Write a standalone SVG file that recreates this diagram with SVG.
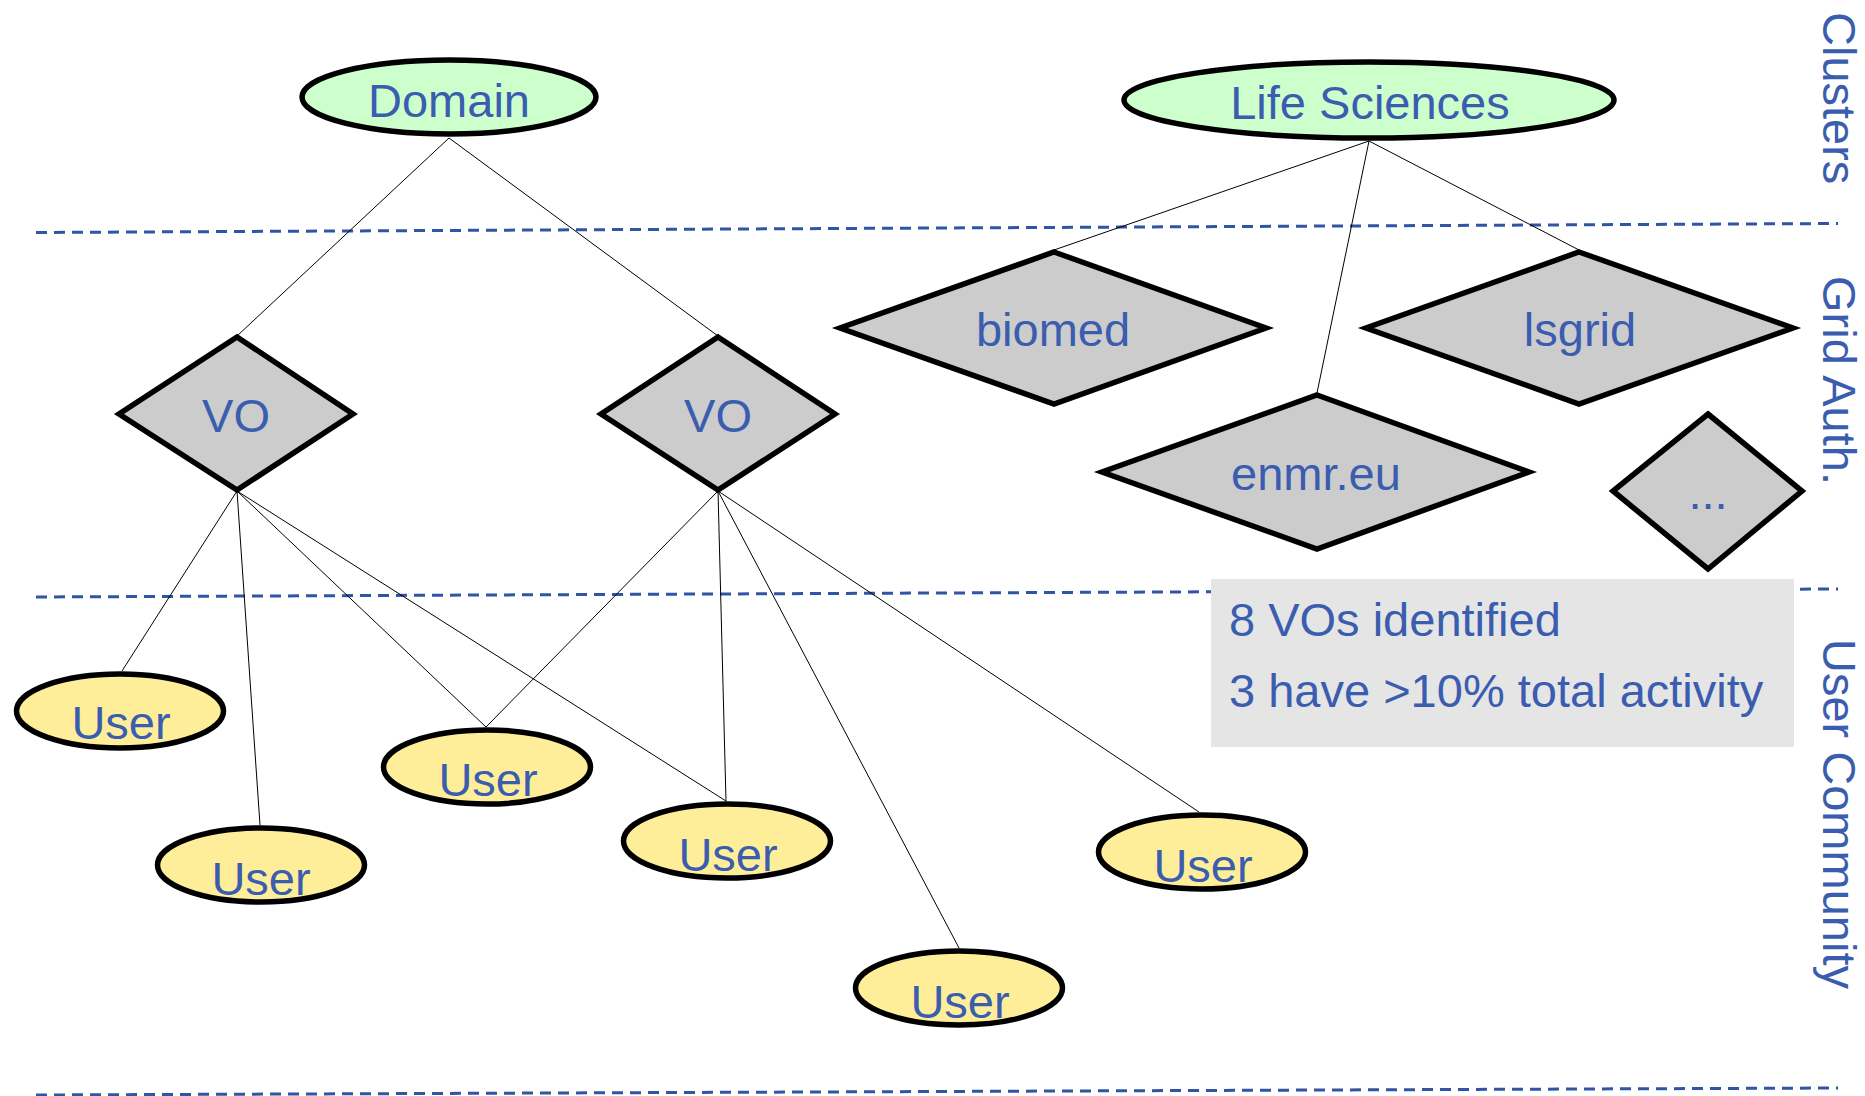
<svg xmlns="http://www.w3.org/2000/svg" width="1865" height="1096" viewBox="0 0 1865 1096">
<style>
.lbl{font-family:"Liberation Sans",Arial,sans-serif;font-size:47px;fill:#3A5DB0;text-anchor:middle}
.side{font-family:"Liberation Sans",Arial,sans-serif;font-size:47px;fill:#3A5DB0}
.note{font-family:"Liberation Sans",Arial,sans-serif;font-size:47px;fill:#3A5DB0}
.cl{fill:#CCFFCC;stroke:#000;stroke-width:5.5}
.us{fill:#FFEE99;stroke:#000;stroke-width:5.5}
.dm{fill:#CCCCCC;stroke:#000;stroke-width:5.5;stroke-linejoin:miter}
.sep{stroke:#2F55A4;stroke-width:3;stroke-dasharray:11 7;fill:none}
.cn{stroke:#000;stroke-width:1;fill:none}
</style>
<rect width="1865" height="1096" fill="#fff"/>
<g id="separators">
<line class="sep" x1="36" y1="232.5" x2="1838" y2="223.5"/>
<line class="sep" x1="36" y1="597" x2="1838" y2="589"/>
<line class="sep" x1="36" y1="1095" x2="1838" y2="1088"/>
</g>
<g id="connectors">
<line class="cn" x1="449" y1="138" x2="237" y2="336"/>
<line class="cn" x1="449" y1="138" x2="718" y2="336"/>
<line class="cn" x1="1369" y1="141" x2="1054" y2="250"/>
<line class="cn" x1="1369" y1="141" x2="1317" y2="393"/>
<line class="cn" x1="1369" y1="141" x2="1579" y2="250"/>
<line class="cn" x1="237" y1="491" x2="122" y2="671"/>
<line class="cn" x1="237" y1="491" x2="260" y2="825"/>
<line class="cn" x1="237" y1="491" x2="486" y2="727"/>
<line class="cn" x1="237" y1="491" x2="726" y2="801"/>
<line class="cn" x1="718" y1="491" x2="486" y2="727"/>
<line class="cn" x1="718" y1="491" x2="726" y2="801"/>
<line class="cn" x1="718" y1="491" x2="959" y2="948"/>
<line class="cn" x1="718" y1="491" x2="1199" y2="812"/>
</g>
<g id="note">
<rect x="1211" y="579" width="583" height="168" fill="#E5E5E5"/>
<text class="note" x="1229" y="636">8 VOs identified</text>
<text class="note" x="1229" y="707">3 have &gt;10% total activity</text>
</g>
<g id="domain"><ellipse class="cl" cx="449" cy="97" rx="147" ry="37"/><text class="lbl" x="449" y="117">Domain</text></g>
<g id="lifesciences"><ellipse class="cl" cx="1369" cy="100" rx="245" ry="38"/><text class="lbl" x="1370" y="119">Life Sciences</text></g>
<g id="vo1"><polygon class="dm" points="237,337 353,414 237,490 119,414"/><text class="lbl" x="236" y="432">VO</text></g>
<g id="vo2"><polygon class="dm" points="718,337 835,414 718,490 601,414"/><text class="lbl" x="718" y="432">VO</text></g>
<g id="biomed"><polygon class="dm" points="1054,252 1266,328 1054,404 840,328"/><text class="lbl" x="1053" y="346">biomed</text></g>
<g id="lsgrid"><polygon class="dm" points="1579,252 1793,328 1579,404 1366,328"/><text class="lbl" x="1580" y="346">lsgrid</text></g>
<g id="enmr"><polygon class="dm" points="1317,395 1529,472 1317,549 1102,472"/><text class="lbl" x="1316" y="490">enmr.eu</text></g>
<g id="more"><polygon class="dm" points="1708,414 1802,491 1708,569 1613,491"/><text class="lbl" x="1708" y="509">...</text></g>
<g id="user1"><ellipse class="us" cx="120" cy="711" rx="103.5" ry="37"/><text class="lbl" x="121" y="739">User</text></g>
<g id="user2"><ellipse class="us" cx="261" cy="865" rx="103.5" ry="37"/><text class="lbl" x="261" y="895">User</text></g>
<g id="user3"><ellipse class="us" cx="487" cy="767" rx="103.5" ry="37"/><text class="lbl" x="488" y="796">User</text></g>
<g id="user4"><ellipse class="us" cx="727" cy="841" rx="103.5" ry="37"/><text class="lbl" x="728" y="871">User</text></g>
<g id="user5"><ellipse class="us" cx="959" cy="988" rx="103.5" ry="37"/><text class="lbl" x="960" y="1018">User</text></g>
<g id="user6"><ellipse class="us" cx="1202" cy="852" rx="103.5" ry="37"/><text class="lbl" x="1203" y="882">User</text></g>
<g id="layers">
<text class="side" transform="translate(1823,12) rotate(90)">Clusters</text>
<text class="side" transform="translate(1823,276) rotate(90)">Grid Auth.</text>
<text class="side" transform="translate(1823,639) rotate(90)">User Community</text>
</g>
</svg>
